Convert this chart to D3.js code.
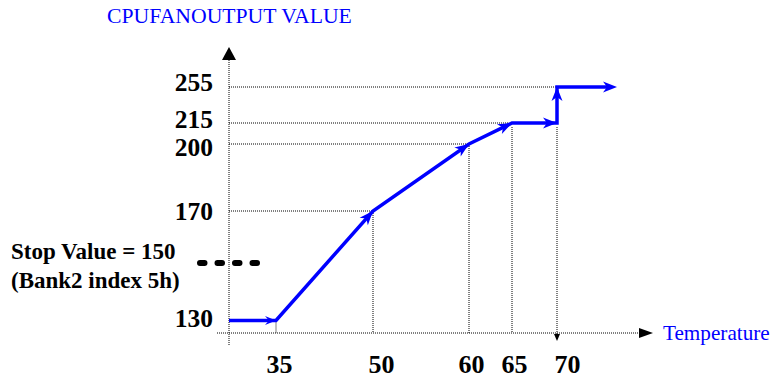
<!DOCTYPE html>
<html>
<head>
<meta charset="utf-8">
<script src="https://cdn.jsdelivr.net/npm/d3@7"></script>
<style>
  html, body { margin: 0; padding: 0; background: #fff; }
  svg { display: block; }
</style>
</head>
<body>
<svg id="chart" width="772" height="379"></svg>
<script>
// Fan control curve: temperature breakpoints and CPUFANOUTPUT values
const temperatures = [35, 50, 60, 65, 70];
const fanOutputs   = [130, 170, 200, 215, 215];
const fullSpeedValue = 255;          // output jumps here once 70 is reached
const stopValue = 150;
const yTickValues = [130, 170, 200, 215, 255];
const xTickValues = [35, 50, 60, 65, 70];
const yTitle = "CPUFANOUTPUT VALUE";
const xTitle = "Temperature";
const stopLines = ["Stop Value = 150", "(Bank2 index 5h)"];

const svg = d3.select("#chart");
const serif = "'Liberation Serif', 'Times New Roman', serif";
const blue = "#0000ff";

// schematic (piecewise) scales: breakpoints are spread out for readability
const x = d3.scaleLinear()
  .domain([35, 50, 60, 65, 70])
  .range([276, 373, 469, 512, 557]);
const y = d3.scaleLinear()
  .domain([130, 150, 170, 200, 215, 255])
  .range([320.5, 263, 211, 144, 123, 87]);

const originX = 229, axisY = 333;
const tailLength = 60;

// label nudges so the crowded tick labels keep clear of each other
const yLabelShift = { 255: -5, 215: -3.5, 200: 3.5, 130: -2 };
const xLabelShift = { 35: 3, 50: 8, 60: 2, 65: 2, 70: 10 };

// ---- dotted guide lines ----
const guides = svg.append("g")
  .attr("stroke", "#000").attr("stroke-width", 1)
  .attr("stroke-dasharray", "1,1").attr("fill", "none");

const pts = temperatures.map((t, i) => ({ t, v: fanOutputs[i] }));
const horiz = pts.slice(1, 4).map(p => ({ t: p.t, v: p.v }));
horiz.push({ t: 70, v: fullSpeedValue });
horiz.forEach(p => {
  guides.append("line")
    .attr("x1", originX).attr("x2", x(p.t) - (p.t === 65 ? 3 : 0))
    .attr("y1", y(p.v)).attr("y2", y(p.v));
});
pts.forEach(p => {
  const top = p.t >= 65 ? y(p.v) + 4 : y(p.v);
  guides.append("line")
    .attr("x1", x(p.t)).attr("x2", x(p.t))
    .attr("y1", top).attr("y2", p.t === 70 ? axisY + 2 : axisY);
});
// small pointer where the 70 guide meets the axis
svg.append("path")
  .attr("d", d3.line()([[x(70) - 3, axisY + 1], [x(70) + 3, axisY + 1], [x(70), axisY + 8]]) + "Z")
  .attr("fill", "#000");

// ---- axes (dotted lines with solid heads) ----
svg.append("line")
  .attr("x1", originX).attr("x2", originX).attr("y1", 345).attr("y2", 60)
  .attr("stroke", "#000").attr("stroke-dasharray", "1,1");
svg.append("path")
  .attr("d", `M${originX},47 L${originX + 7},60 L${originX - 7},60 Z`).attr("fill", "#000");
svg.append("line")
  .attr("x1", 217).attr("x2", 640).attr("y1", axisY).attr("y2", axisY)
  .attr("stroke", "#000").attr("stroke-dasharray", "1,1");
svg.append("path")
  .attr("d", `M653,${axisY} L639,${axisY - 5} L639,${axisY + 5} Z`).attr("fill", "#000");

// ---- tick labels through d3 axes ----
const yAxis = svg.append("g")
  .attr("transform", `translate(${originX},0)`)
  .call(d3.axisLeft(y).tickValues(yTickValues).tickSize(0).tickPadding(16));
yAxis.select(".domain").remove();
yAxis.selectAll("text")
  .attr("font-family", serif).attr("font-size", 25.5).attr("font-weight", "bold")
  .attr("fill", "#000")
  .attr("y", d => yLabelShift[d] || 0);

const xAxis = svg.append("g")
  .attr("transform", `translate(0,${axisY})`)
  .call(d3.axisBottom(x).tickValues(xTickValues).tickSize(0).tickPadding(22));
xAxis.select(".domain").remove();
xAxis.selectAll("text")
  .attr("font-family", serif).attr("font-size", 26).attr("font-weight", "bold")
  .attr("fill", "#000").attr("dx", d => xLabelShift[d] || 0);

// ---- titles ----
svg.append("text")
  .attr("x", 107).attr("y", 23)
  .attr("font-family", serif).attr("font-size", 21.7).attr("fill", blue)
  .text(yTitle);
svg.append("text")
  .attr("x", 663).attr("y", 340)
  .attr("font-family", serif).attr("font-size", 21.2).attr("fill", blue)
  .text(xTitle);

// ---- stop value annotation ----
svg.append("text")
  .attr("x", 11).attr("y", 259)
  .attr("font-family", serif).attr("font-size", 23).attr("font-weight", "bold")
  .text(stopLines[0]);
svg.append("text")
  .attr("x", 11).attr("y", 288)
  .attr("font-family", serif).attr("font-size", 23).attr("font-weight", "bold")
  .text(stopLines[1]);
svg.append("line")
  .attr("x1", originX - 29).attr("x2", originX + 28)
  .attr("y1", y(stopValue)).attr("y2", y(stopValue))
  .attr("stroke", "#000").attr("stroke-width", 6)
  .attr("stroke-linecap", "round").attr("stroke-dasharray", "4.5,13");

// ---- blue control curve ----
const curve = [[originX, y(fanOutputs[0])]];
pts.forEach(p => curve.push([x(p.t), y(p.v)]));
curve.push([x(70), y(fullSpeedValue)]);
curve.push([x(70) + tailLength, y(fullSpeedValue)]);

const last = curve.length - 1;
const drawn = curve.map(d => d.slice());
drawn[last][0] -= 8;   // keep the line end inside the final arrowhead

svg.append("path")
  .attr("d", d3.line()(drawn))
  .attr("fill", "none").attr("stroke", blue).attr("stroke-width", 3.5)
  .attr("stroke-linejoin", "miter");

// arrowhead at the end of every segment
for (let i = 1; i < curve.length; i++) {
  const [x0, y0] = curve[i - 1], [x1, y1] = curve[i];
  const ang = Math.atan2(y1 - y0, x1 - x0) * 180 / Math.PI;
  const len = i === 1 ? 11 : 14, half = i === 1 ? 4.5 : 5.5;
  svg.append("path")
    .attr("d", `M0,0 L${-len},${-half} L${-len + 4},0 L${-len},${half} Z`)
    .attr("transform", `translate(${x1},${y1}) rotate(${ang})`)
    .attr("fill", blue);
}
</script>
</body>
</html>
